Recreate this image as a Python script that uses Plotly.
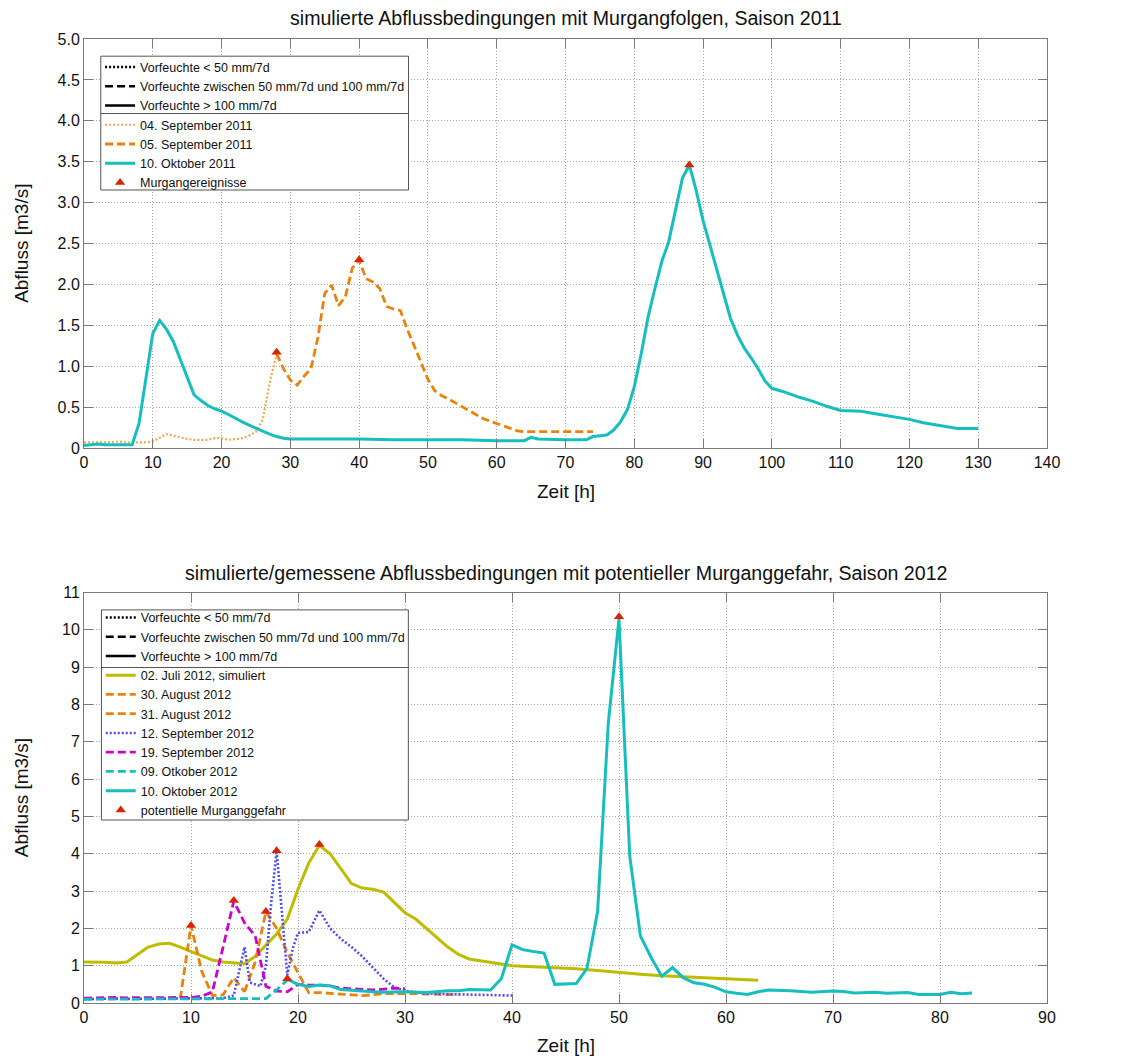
import plotly.graph_objects as go

# ---------------- Saison 2011 ----------------
t_sep04_11 = [0, 1, 2, 3, 4, 5, 6, 7, 8, 9, 10, 11, 12, 13, 14, 15, 16, 17, 18, 19,
              20, 21, 22, 23, 24, 25, 26, 27, 28]
q_sep04_11 = [0.07, 0.07, 0.07, 0.07, 0.07, 0.08, 0.07, 0.07, 0.07, 0.07, 0.08, 0.13,
              0.17, 0.15, 0.13, 0.11, 0.10, 0.10, 0.10, 0.12, 0.12, 0.10, 0.11, 0.12,
              0.15, 0.20, 0.35, 0.80, 1.15]

t_sep05_11 = [28, 29, 30, 31, 32, 33, 34, 35, 36, 37, 38, 39, 40, 41, 42, 43, 44, 45,
              46, 47, 48, 49, 50, 51, 52, 53, 54, 55, 56, 57, 58, 59, 60, 61, 62, 63,
              64, 66, 68, 70, 72, 74]
q_sep05_11 = [1.15, 0.97, 0.83, 0.77, 0.88, 0.97, 1.35, 1.89, 1.99, 1.74, 1.85, 2.20,
              2.30, 2.07, 2.03, 1.95, 1.73, 1.70, 1.68, 1.45, 1.25, 1.05, 0.84, 0.70,
              0.64, 0.60, 0.55, 0.51, 0.46, 0.41, 0.36, 0.33, 0.30, 0.27, 0.24, 0.21,
              0.20, 0.20, 0.20, 0.20, 0.20, 0.20]

t_okt10_11 = [0, 1, 2, 3, 4, 5, 6, 7, 8, 9, 10, 11, 12, 13, 14, 15, 16, 17, 18, 19, 20,
              21, 22, 23, 24, 25, 26, 27, 28, 29, 30, 35, 40, 45, 50, 55, 60, 64, 65,
              66, 70, 73, 74, 75, 76, 77, 78, 79, 80, 81, 82, 83, 84, 85, 86, 87, 88,
              89, 90, 91, 92, 93, 94, 95, 96, 97, 98, 99, 100, 102, 104, 106, 108,
              110, 112, 113, 115, 118, 120, 122, 124, 126, 127, 130]
q_okt10_11 = [0.03, 0.04, 0.05, 0.04, 0.04, 0.04, 0.04, 0.04, 0.30, 0.85, 1.40, 1.56,
              1.45, 1.30, 1.08, 0.86, 0.65, 0.58, 0.52, 0.48, 0.45, 0.41, 0.36, 0.32,
              0.28, 0.24, 0.20, 0.17, 0.14, 0.12, 0.11, 0.11, 0.11, 0.10, 0.10, 0.10,
              0.09, 0.09, 0.13, 0.11, 0.10, 0.10, 0.14, 0.15, 0.16, 0.22, 0.32, 0.47,
              0.75, 1.15, 1.60, 1.95, 2.28, 2.52, 2.92, 3.30, 3.46, 3.15, 2.78, 2.48,
              2.15, 1.85, 1.58, 1.38, 1.22, 1.10, 0.97, 0.82, 0.73, 0.68, 0.62, 0.57,
              0.51, 0.46, 0.45, 0.45, 0.42, 0.38, 0.35, 0.31, 0.28, 0.25, 0.24, 0.24]

t_events_11 = [28, 40, 88]
q_events_11 = [1.17, 2.30, 3.46]

# ---------------- Saison 2012 ----------------
t_jul02_12 = [0, 1, 2, 3, 4, 5, 6, 7, 8, 9, 10, 11, 12, 13, 14, 15, 16, 17, 18, 19, 20,
              21, 22, 23, 24, 25, 26, 27, 28, 29, 30, 31, 32, 33, 34, 35, 36, 37, 38,
              40, 42, 44, 46, 48, 50, 52, 54, 56, 58, 60, 62, 63]
q_jul02_12 = [1.10, 1.10, 1.09, 1.07, 1.10, 1.30, 1.50, 1.58, 1.60, 1.50, 1.38, 1.25,
              1.15, 1.10, 1.07, 1.05, 1.25, 1.55, 1.85, 2.25, 3.05, 3.75, 4.22, 4.00,
              3.60, 3.20, 3.08, 3.05, 2.97, 2.70, 2.42, 2.25, 2.00, 1.75, 1.50, 1.30,
              1.18, 1.13, 1.09, 1.00, 0.97, 0.95, 0.92, 0.87, 0.81, 0.77, 0.73, 0.70,
              0.66, 0.64, 0.62, 0.61]

t_aug30_12 = [0, 1, 2, 3, 4, 5, 6, 7, 8, 9, 10, 11, 12, 13, 14, 15]
q_aug30_12 = [0.12, 0.12, 0.12, 0.13, 0.12, 0.12, 0.12, 0.12, 0.12, 0.12, 2.08, 0.85,
              0.20, 0.22, 0.68, 0.30]

t_aug31_12 = [15, 16, 17, 18, 19, 20, 21, 22, 23, 24, 25, 26, 27, 28, 29, 30, 31, 32,
              33, 34, 35]
q_aug31_12 = [0.30, 1.10, 2.45, 2.00, 1.35, 0.80, 0.28, 0.28, 0.27, 0.24, 0.22, 0.20,
              0.22, 0.25, 0.25, 0.26, 0.25, 0.24, 0.24, 0.23, 0.22]

t_sep12_12 = [0, 1, 2, 3, 4, 5, 6, 7, 8, 9, 10, 11, 12, 13, 14, 15, 15.5, 16, 16.5, 17,
              17.5, 18, 18.5, 19, 19.5, 20, 21, 22, 23, 24, 25, 26, 27, 28, 29, 30, 32,
              34, 36, 38, 40]
q_sep12_12 = [0.10, 0.11, 0.11, 0.12, 0.11, 0.11, 0.11, 0.11, 0.11, 0.11, 0.12, 0.12,
              0.12, 0.13, 0.20, 1.50, 0.55, 0.50, 0.45, 1.00, 2.70, 4.08, 2.40, 0.75,
              1.45, 1.88, 1.90, 2.48, 2.00, 1.72, 1.50, 1.25, 0.95, 0.65, 0.42, 0.33,
              0.25, 0.24, 0.22, 0.21, 0.20]

t_sep19_12 = [0, 1, 2, 3, 4, 5, 6, 7, 8, 9, 10, 11, 12, 13, 14, 15, 16, 17, 18, 19, 20,
              21, 22, 23, 24, 25, 26, 27, 28, 29, 30]
q_sep19_12 = [0.13, 0.14, 0.14, 0.15, 0.14, 0.14, 0.14, 0.14, 0.15, 0.15, 0.15, 0.18,
              0.30, 1.50, 2.73, 2.15, 1.80, 0.45, 0.32, 0.30, 0.50, 0.48, 0.48, 0.45,
              0.40, 0.38, 0.36, 0.35, 0.37, 0.40, 0.38]

t_okt09_12 = [0, 1, 2, 3, 4, 5, 6, 7, 8, 9, 10, 11, 12, 13, 14, 15, 16, 17, 18, 19]
q_okt09_12 = [0.10, 0.10, 0.10, 0.10, 0.10, 0.10, 0.10, 0.10, 0.10, 0.10, 0.10, 0.10,
              0.10, 0.10, 0.10, 0.10, 0.10, 0.12, 0.35, 0.62]

t_okt10_12 = [19, 20, 21, 22, 23, 24, 25, 26, 27, 28, 30, 32, 34, 35, 36, 38, 39, 40,
              41, 42, 43, 44, 45, 46, 47, 48, 49, 50, 51, 52, 53, 54, 55, 56, 57, 58,
              59, 60, 61, 62, 63, 64, 66, 68, 70, 71, 72, 74, 75, 76, 77, 78, 80, 81,
              82, 83]
q_okt10_12 = [0.63, 0.50, 0.44, 0.48, 0.46, 0.36, 0.34, 0.31, 0.30, 0.29, 0.30, 0.28,
              0.33, 0.33, 0.36, 0.35, 0.65, 1.56, 1.43, 1.38, 1.34, 0.50, 0.51, 0.52,
              0.92, 2.45, 7.50, 10.30, 3.95, 1.80, 1.22, 0.72, 0.95, 0.68, 0.54, 0.50,
              0.42, 0.30, 0.26, 0.23, 0.30, 0.35, 0.33, 0.29, 0.32, 0.31, 0.27, 0.29,
              0.26, 0.26, 0.28, 0.23, 0.23, 0.29, 0.25, 0.27]

t_events_12 = [10, 14, 17, 18, 19, 22, 50]
q_events_12 = [2.08, 2.75, 2.45, 4.08, 0.65, 4.25, 10.35]

# tick labels
x_ticks_11 = list(range(0, 141, 10))
y_ticks_11 = [0, 0.5, 1.0, 1.5, 2.0, 2.5, 3.0, 3.5, 4.0, 4.5, 5.0]
y_ticktext_11 = ["0", "0.5", "1.0", "1.5", "2.0", "2.5", "3.0", "3.5", "4.0", "4.5", "5.0"]
x_ticks_12 = list(range(0, 91, 10))
y_ticks_12 = list(range(0, 12))

# ---------------- styling ----------------
FONT = "Liberation Sans, Arial, sans-serif"
CYAN = "#17BEBE"
ORANGE = "#E8820C"
LIGHT_ORANGE = "#F5A752"
OLIVE = "#BDBD00"
BLUE = "#4D4DFF"
MAGENTA = "#CC00CC"
RED = "#DD2200"
DOT = "2px,2px"
DASH = "8px,4px"

fig = go.Figure()


def add_moisture_keys(legend, xa, ya):
    keys = [("Vorfeuchte < 50 mm/7d", DOT),
            ("Vorfeuchte zwischen 50 mm/7d und 100 mm/7d", DASH),
            ("Vorfeuchte > 100 mm/7d", "solid")]
    for name, dash in keys:
        fig.add_trace(go.Scatter(x=[None], y=[None], mode="lines", name=name,
                                 line=dict(color="black", width=2.5, dash=dash),
                                 legend=legend, xaxis=xa, yaxis=ya,
                                 hoverinfo="skip"))


def add_series(x, y, name, color, dash, width, legend, xa, ya):
    fig.add_trace(go.Scatter(x=x, y=y, mode="lines", name=name,
                             line=dict(color=color, width=width, dash=dash),
                             legend=legend, xaxis=xa, yaxis=ya))


# top panel
add_moisture_keys("legend", "x", "y")
add_series(t_sep04_11, q_sep04_11, "04. September 2011", LIGHT_ORANGE, DOT, 2.2, "legend", "x", "y")
add_series(t_sep05_11, q_sep05_11, "05. September 2011", ORANGE, DASH, 2.8, "legend", "x", "y")
add_series(t_okt10_11, q_okt10_11, "10. Oktober 2011", CYAN, "solid", 3, "legend", "x", "y")
fig.add_trace(go.Scatter(x=t_events_11, y=q_events_11, mode="markers", name="Murgangereignisse",
                         marker=dict(symbol="triangle-up", size=9, color=RED),
                         legend="legend", xaxis="x", yaxis="y"))

# bottom panel
add_moisture_keys("legend2", "x2", "y2")
add_series(t_jul02_12, q_jul02_12, "02. Juli 2012, simuliert", OLIVE, "solid", 3, "legend2", "x2", "y2")
add_series(t_aug30_12, q_aug30_12, "30. August 2012", ORANGE, DASH, 2.8, "legend2", "x2", "y2")
add_series(t_aug31_12, q_aug31_12, "31. August 2012", ORANGE, DASH, 2.8, "legend2", "x2", "y2")
add_series(t_sep12_12, q_sep12_12, "12. September 2012", BLUE, DOT, 2.6, "legend2", "x2", "y2")
add_series(t_sep19_12, q_sep19_12, "19. September 2012", MAGENTA, DASH, 2.8, "legend2", "x2", "y2")
add_series(t_okt09_12, q_okt09_12, "09. Otkober 2012", CYAN, DASH, 2.8, "legend2", "x2", "y2")
add_series(t_okt10_12, q_okt10_12, "10. Oktober 2012", CYAN, "solid", 3, "legend2", "x2", "y2")
fig.add_trace(go.Scatter(x=t_events_12, y=q_events_12, mode="markers", name="potentielle Murganggefahr",
                         marker=dict(symbol="triangle-up", size=9, color=RED),
                         legend="legend2", xaxis="x2", yaxis="y2"))

AXIS_GRAY = "#7a7a7a"
axis_common = dict(showline=True, linecolor=AXIS_GRAY, linewidth=1, mirror="allticks",
                   ticks="inside", ticklen=9, tickcolor=AXIS_GRAY, tickwidth=1,
                   showgrid=True, gridcolor="#a8a8a8", griddash="1px,2px", gridwidth=1,
                   zeroline=False, tickfont=dict(family=FONT, size=16, color="#111111"),
                   fixedrange=True)

legend_common = dict(xanchor="left", yanchor="top", bgcolor="rgba(0,0,0,0)",
                     borderwidth=0, font=dict(family=FONT, size=12.5, color="#111111"),
                     tracegroupgap=0, itemclick=False, itemdoubleclick=False)

fig.update_layout(
    width=1131, height=1059,
    margin=dict(l=84, r=84, t=39, b=56),
    paper_bgcolor="white", plot_bgcolor="white",
    font=dict(family=FONT, color="#111111"),
    showlegend=True,
    xaxis=dict(domain=[0, 1], range=[0, 140], tickvals=x_ticks_11, anchor="y", **axis_common),
    yaxis=dict(domain=[0.5757, 1.0], range=[0, 5], tickvals=y_ticks_11,
               ticktext=y_ticktext_11, anchor="x", **axis_common),
    xaxis2=dict(domain=[0, 1], range=[0, 90], tickvals=x_ticks_12, anchor="y2", **axis_common),
    yaxis2=dict(domain=[0, 0.4258], range=[0, 11], tickvals=y_ticks_12, anchor="x2", **axis_common),
    legend=dict(x=0.0167, y=0.9861, **legend_common),
    legend2=dict(x=0.0174, y=0.4151, **legend_common),
)

# legend frames with the divider between line-style keys and data series
frames = [("x", "y", 0.0174, 0.337, 0.6308, 0.958, 0.8178),
          ("x2", "y2", 0.0181, 0.3368, 0.4458, 0.9577, 0.8173)]
for xa, ya, x0, x1, y0, y1, ysep in frames:
    fig.add_shape(type="rect", xref=f"{xa} domain", yref=f"{ya} domain",
                  x0=x0, x1=x1, y0=y0, y1=y1, fillcolor="white",
                  line=dict(color="#555555", width=1), layer="above")
    fig.add_shape(type="line", xref=f"{xa} domain", yref=f"{ya} domain",
                  x0=x0, x1=x1, y0=ysep, y1=ysep,
                  line=dict(color="#555555", width=1), layer="above")

# titles and axis labels
txt = dict(family=FONT, color="#111111")
annotations = [
    dict(text="simulierte Abflussbedingungen mit Murgangfolgen, Saison 2011",
         x=0.5, y=1.0215, font=dict(size=19.6, **txt)),
    dict(text="simulierte/gemessene Abflussbedingungen mit potentieller Murganggefahr, Saison 2012",
         x=0.5, y=0.4462, font=dict(size=19.6, **txt)),
    dict(text="Zeit [h]", x=0.5, y=0.5311, font=dict(size=19, **txt)),
    dict(text="Zeit [h]", x=0.5, y=-0.0446, font=dict(size=19, **txt)),
    dict(text="Abfluss [m3/s]", x=-0.0650, y=0.7879, textangle=-90, font=dict(size=19, **txt)),
    dict(text="Abfluss [m3/s]", x=-0.0650, y=0.2129, textangle=-90, font=dict(size=19, **txt)),
]
for a in annotations:
    fig.add_annotation(xref="paper", yref="paper", showarrow=False,
                       xanchor="center", yanchor="middle", **a)

fig.write_html("out.html")
